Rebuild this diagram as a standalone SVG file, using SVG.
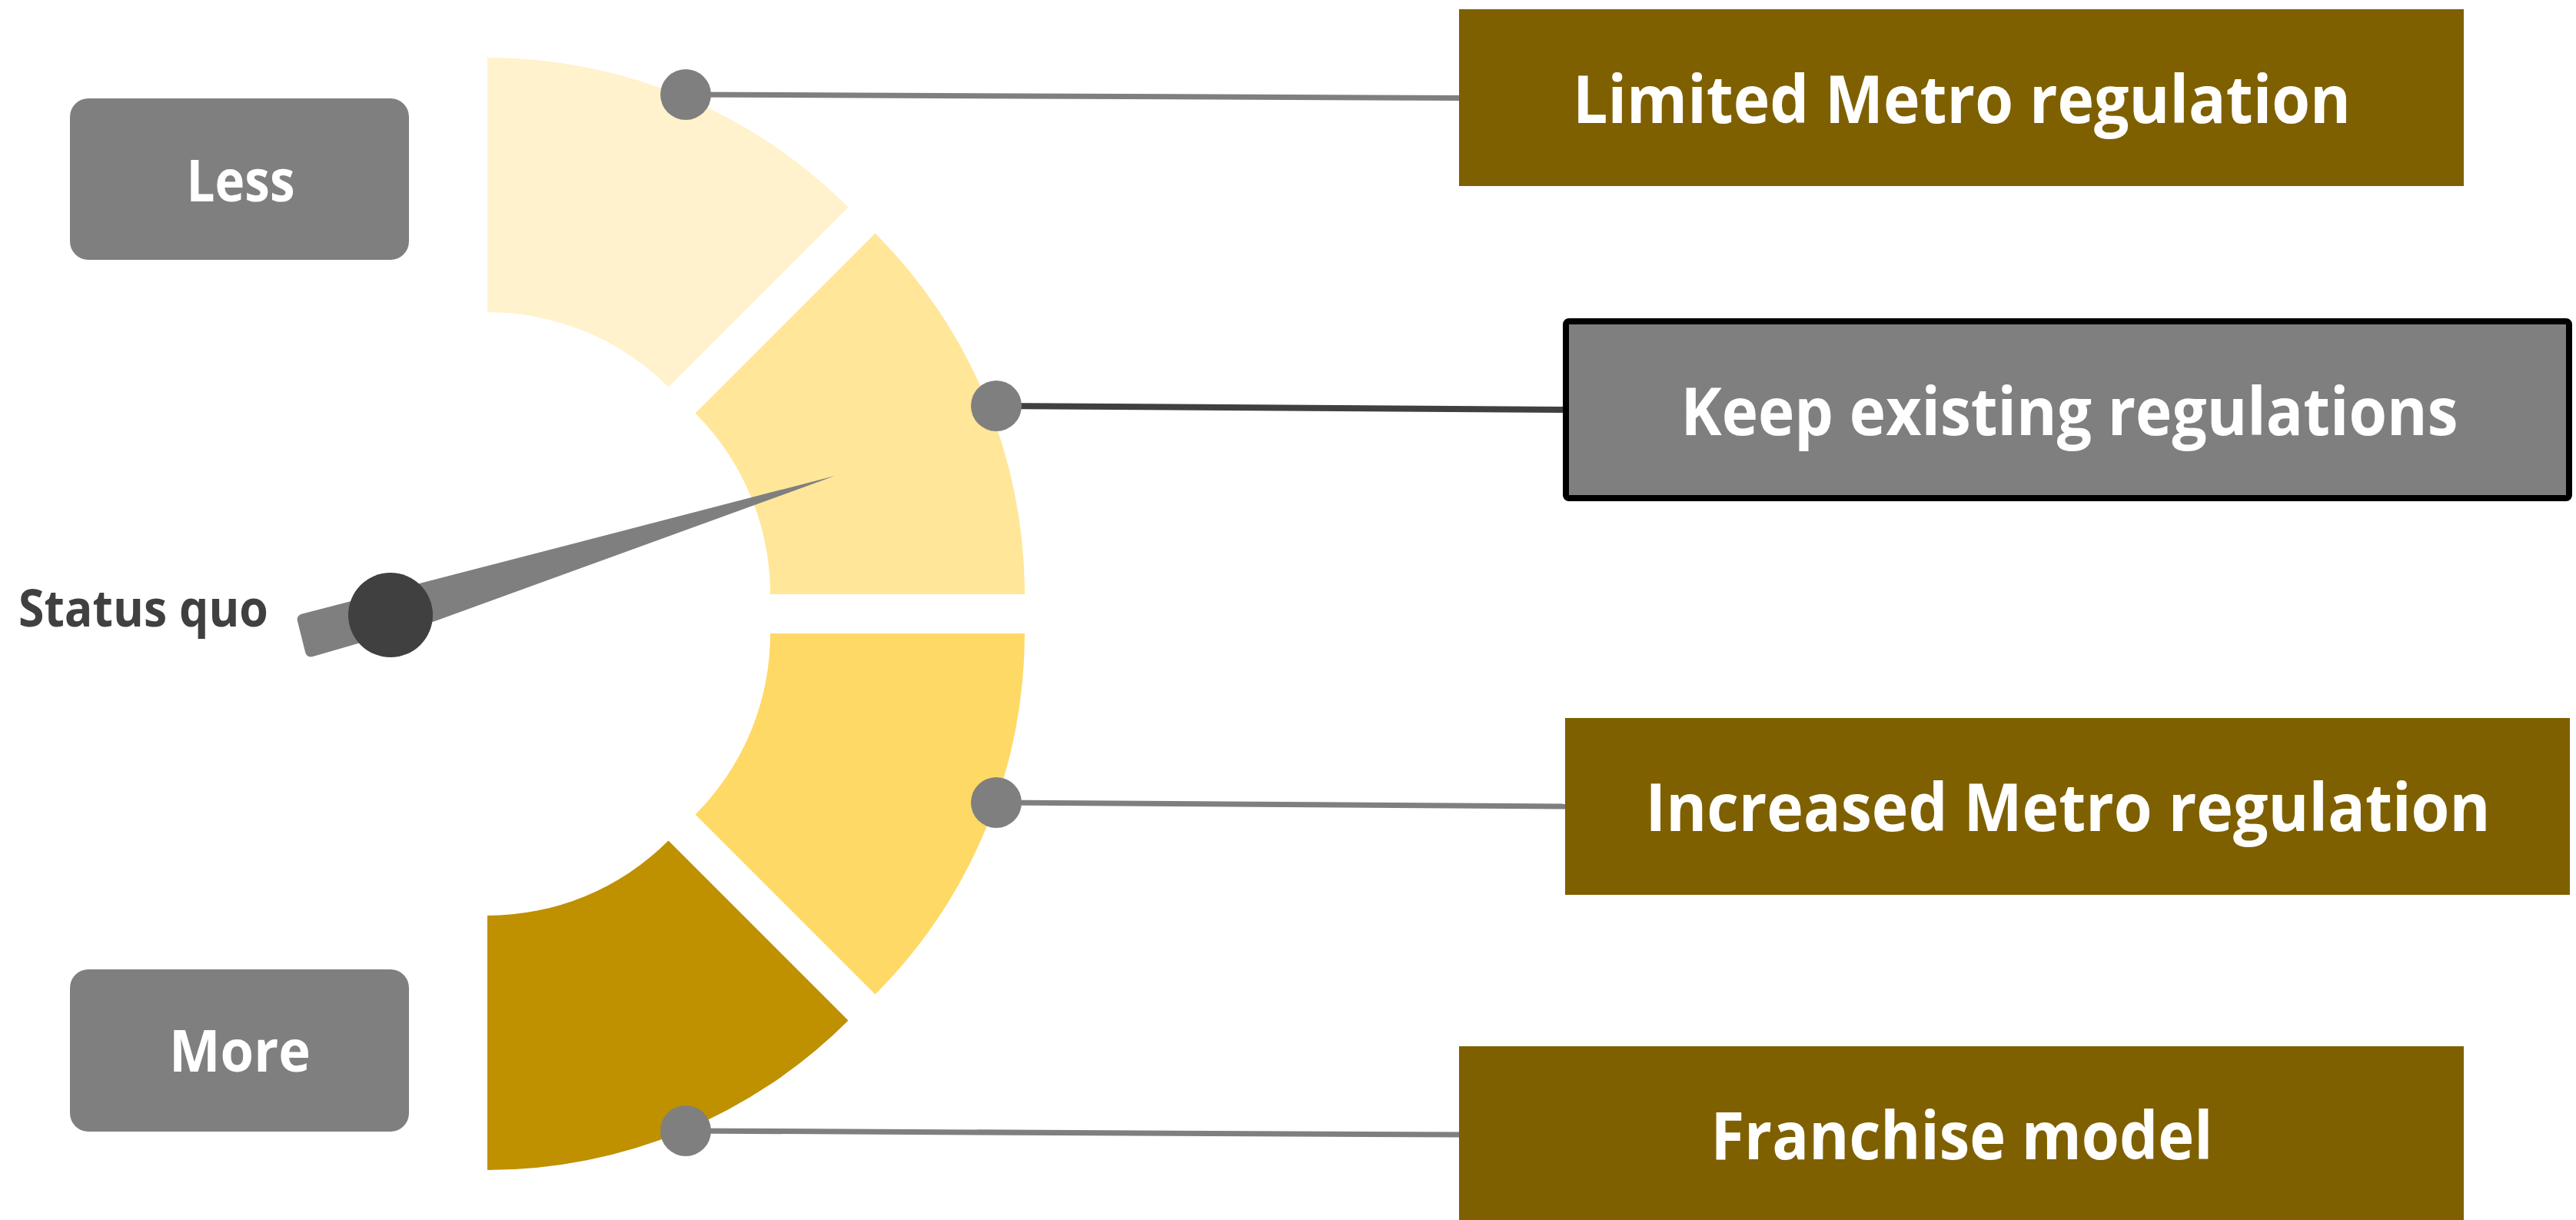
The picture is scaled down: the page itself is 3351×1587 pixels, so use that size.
<svg xmlns="http://www.w3.org/2000/svg" width="3351" height="1587" viewBox="0 0 3351 1587">
<style>
.lbl{font-family:"Open Sans","Liberation Sans",sans-serif;font-weight:bold;fill:#FFFFFF}
.opt{fill:#7F6000}
.side{fill:#7F7F7F}
.dot{fill:#7F7F7F}
.conn{stroke:#7F7F7F;stroke-width:7;fill:none}
</style>
<rect width="3351" height="1587" fill="#FFFFFF"/>
<g id="gauge">
<path id="seg1" d="M634,75 A664,664 0 0 1 1103.5,269.5 L869.5,503.5 A333,333 0 0 0 634,406 Z" fill="#FFF2CC"/>
<path id="seg2" d="M1138.5,303.5 A664,664 0 0 1 1333,773 L1002,773 A333,333 0 0 0 904.5,537.5 Z" fill="#FFE699"/>
<path id="seg3" d="M1333,824 A664,664 0 0 1 1138.5,1293.5 L904.5,1059.5 A333,333 0 0 0 1002,824 Z" fill="#FFD966"/>
<path id="seg4" d="M1103.5,1327.5 A664,664 0 0 1 634,1522 L634,1191 A333,333 0 0 0 869.5,1093.5 Z" fill="#BF9000"/>
</g>
<g id="connectors">
<line class="conn" x1="892" y1="123" x2="1900" y2="127.5"/>
<line class="conn" x1="1296" y1="528" x2="2038" y2="533" style="stroke:#404040;stroke-width:8"/>
<line class="conn" x1="1296" y1="1044" x2="2038" y2="1049"/>
<line class="conn" x1="892" y1="1471" x2="1900" y2="1476"/>
</g>
<g id="dots">
<circle class="dot" cx="892" cy="123" r="33"/>
<circle class="dot" cx="1296" cy="528" r="33"/>
<circle class="dot" cx="1296" cy="1044" r="33"/>
<circle class="dot" cx="892" cy="1471" r="33"/>
</g>
<g id="needle">
<path d="M395,798 L1086,619 L563,809 L407,854 Q399,856 397,848 L387,808 Q385,800 395,798 Z" fill="#7F7F7F"/>
<circle cx="508" cy="800" r="55" fill="#404040"/>
</g>
<g id="status-quo">
<text x="24" y="815" font-family="'Open Sans','Liberation Sans',sans-serif" font-weight="bold" font-size="66" fill="#404040" textLength="325" lengthAdjust="spacingAndGlyphs">Status quo</text>
</g>
<g id="less">
<rect class="side" x="91" y="128" width="441" height="210" rx="24"/>
<text class="lbl" x="313" y="262" font-size="76" text-anchor="middle" textLength="141" lengthAdjust="spacingAndGlyphs">Less</text>
</g>
<g id="more">
<rect class="side" x="91" y="1261" width="441" height="211" rx="24"/>
<text class="lbl" x="312" y="1394" font-size="76" text-anchor="middle" textLength="184" lengthAdjust="spacingAndGlyphs">More</text>
</g>
<g id="limited">
<rect class="opt" x="1898" y="12" width="1307" height="230"/>
<text class="lbl" x="2552" y="160" font-size="86" text-anchor="middle" textLength="1012" lengthAdjust="spacingAndGlyphs">Limited Metro regulation</text>
</g>
<g id="keep">
<rect x="2037" y="418" width="1305" height="230" rx="4" fill="#7F7F7F" stroke="#000000" stroke-width="8"/>
<text class="lbl" x="2692" y="566" font-size="86" text-anchor="middle" textLength="1011" lengthAdjust="spacingAndGlyphs">Keep existing regulations</text>
</g>
<g id="increased">
<rect class="opt" x="2036" y="934" width="1307" height="230"/>
<text class="lbl" x="2690" y="1081" font-size="86" text-anchor="middle" textLength="1099" lengthAdjust="spacingAndGlyphs">Increased Metro regulation</text>
</g>
<g id="franchise">
<rect class="opt" x="1898" y="1361" width="1307" height="230"/>
<text class="lbl" x="2552" y="1508" font-size="86" text-anchor="middle" textLength="653" lengthAdjust="spacingAndGlyphs">Franchise model</text>
</g>
</svg>
